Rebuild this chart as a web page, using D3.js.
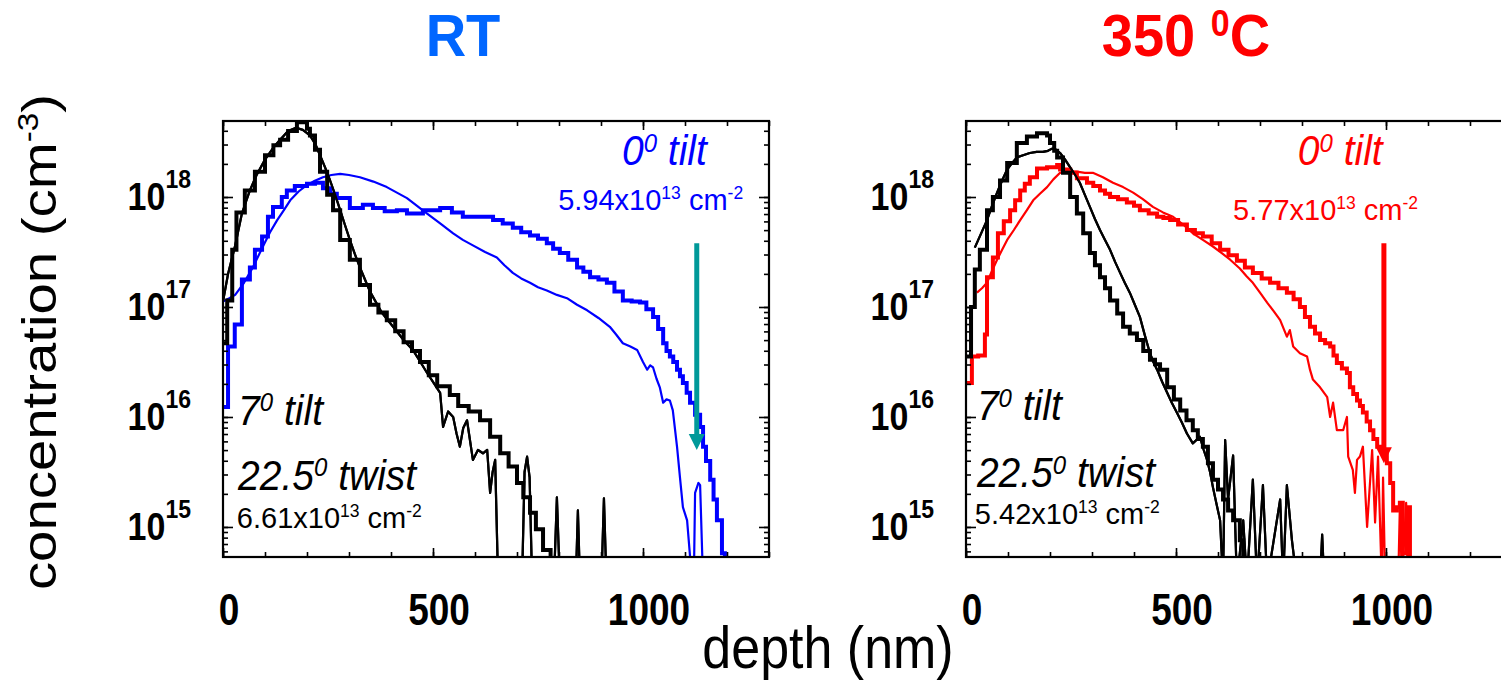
<!DOCTYPE html>
<html>
<head>
<meta charset="utf-8">
<script src="https://cdn.jsdelivr.net/npm/d3@7"></script>
<style>
  html, body { margin: 0; padding: 0; background: #fff; }
  svg { display: block; font-family: "Liberation Sans", Arial, sans-serif; }
  text { white-space: pre; }
</style>
</head>
<body>
<svg id="chart" width="1501" height="686"></svg>
<script>
// depth (nm) vs log10 of concentration (cm^-3)
// 14.5 means "below the bottom of the plot"

// RT panel
const rtBlackStep = [
  [0,16.67],[10,17.06],[22,17.52],[32,17.86],[52,18.06],[76,18.23],[100,18.38],[120,18.47],[136,18.52],
  [155,18.6],[176,18.68],[200,18.62],[207,18.56],[219,18.43],[231,18.23],[248,18.02],[262,17.88],
  [279,17.61],[302,17.43],[326,17.2],[350,17.02],[370,16.95],[390,16.88],[410,16.78],[430,16.68],
  [450,16.6],[469,16.5],[490,16.38],[510,16.28],[540,16.2],[560,16.1],[585,16.05],[612,15.97],
  [636,15.82],[660,15.67],[680,15.55],[700,15.4],[715,15.27],[731,15.13],[745,14.98],[762,14.79],[780,14.5]
];
const rtBlackSims = [
  [0,17.05],[12,17.3],[29,17.56],[45,17.85],[64,18.06],[80,18.2],[100,18.34],[120,18.45],[136,18.52],
  [155,18.6],[174,18.63],[190,18.61],[207,18.56],[220,18.48],[231,18.38],[243,18.27],[255,18.15],
  [267,18.02],[279,17.88],[290,17.75],[302,17.61],[314,17.48],[326,17.36],[338,17.25],[350,17.14],
  [378,16.95],[405,16.82],[430,16.7],[452,16.61],[470,16.5],[486,16.4],[500,16.32],[517,16.22],
  [524,15.91],[536,16.05],[548,16.0],[556,15.85],[564,15.73],[572,15.9],[581,15.97],[595,15.61],
  [607,15.7],[619,15.67],[629,15.7],[636,15.31],[642,15.5],[648,15.61],[655,14.5],[712,14.5],
  [718,15.5],[724,15.64],[730,15.45],[736,14.5],[788,14.5],[795,15.27],[802,14.5],[840,14.5],
  [845,15.15],[850,14.5],[901,14.5],[907,15.26],[913,14.5],[1300,14.5]
];
const rtBlueStep = [
  [0,16.09],[12,16.64],[28,16.84],[45,17.25],[64,17.36],[76,17.52],[93,17.64],[107,17.82],[119,17.91],
  [140,18.0],[152,18.06],[171,18.1],[200,18.12],[219,18.13],[238,18.08],[255,18.03],[271,17.99],
  [302,17.9],[333,17.93],[357,17.9],[385,17.87],[414,17.88],[438,17.85],[476,17.88],[517,17.9],
  [545,17.86],[571,17.82],[612,17.82],[643,17.79],[666,17.76],[690,17.72],[710,17.68],[731,17.65],
  [750,17.62],[771,17.58],[786,17.53],[802,17.49],[822,17.43],[843,17.36],[858,17.32],[874,17.27],
  [894,17.25],[914,17.22],[932,17.14],[952,17.06],[973,17.05],[993,17.04],[1008,16.98],[1024,16.91],
  [1036,16.8],[1048,16.67],[1056,16.6],[1064,16.55],[1072,16.5],[1081,16.43],[1088,16.37],[1095,16.31],
  [1104,16.22],[1112,16.13],[1124,16.02],[1136,15.91],[1143,15.73],[1150,15.6],[1160,15.43],
  [1168,15.25],[1176,15.06],[1188,14.76],[1195,14.5]
];
const rtBlueSims = [
  [0,17.05],[15,17.08],[29,17.11],[50,17.22],[71,17.36],[95,17.55],[112,17.68],[129,17.79],[145,17.88],
  [160,17.97],[180,18.05],[200,18.11],[220,18.15],[238,18.18],[258,18.2],[279,18.21],[300,18.2],
  [326,18.18],[358,18.14],[390,18.09],[414,18.04],[438,17.99],[462,17.92],[486,17.85],[517,17.76],
  [548,17.67],[571,17.61],[595,17.56],[624,17.5],[652,17.45],[670,17.38],[690,17.31],[710,17.26],
  [731,17.22],[750,17.18],[771,17.15],[795,17.11],[819,17.08],[843,17.02],[867,16.97],[894,16.9],
  [921,16.82],[936,16.75],[952,16.67],[970,16.64],[986,16.61],[1000,16.5],[1010,16.43],[1017,16.47],
  [1024,16.45],[1032,16.35],[1040,16.27],[1048,16.13],[1056,16.16],[1064,16.15],[1071,16.06],
  [1081,15.73],[1088,15.45],[1095,15.18],[1105,15.06],[1117,14.5],[1121,14.5],[1124,15.31],
  [1132,15.4],[1136,15.38],[1143,14.5],[1300,14.5]
];
const rtArrow = { depth: 1128, from: 17.58, to: 15.7 };

// 350 C panel
const hotBlackStep = [
  [0,16.55],[12,17.0],[21,17.34],[33,17.52],[50,17.88],[64,18.0],[81,18.15],[98,18.31],[121,18.49],
  [145,18.55],[169,18.58],[193,18.56],[200,18.49],[210,18.42],[217,18.36],[231,18.22],[248,18.0],
  [264,17.85],[279,17.67],[295,17.49],[307,17.38],[319,17.27],[331,17.17],[343,17.06],[360,16.94],
  [374,16.82],[390,16.76],[407,16.7],[422,16.6],[438,16.52],[450,16.48],[462,16.43],[479,16.27],
  [495,16.16],[510,16.06],[525,15.97],[540,15.88],[552,15.8],[564,15.73],[576,15.58],[588,15.43],
  [600,15.34],[612,15.25],[624,15.15],[636,15.06],[652,14.88],[660,14.5]
];
const hotBlackSims = [
  [21,17.54],[35,17.66],[50,17.79],[62,17.92],[74,18.04],[86,18.15],[98,18.25],[110,18.31],[121,18.36],
  [136,18.38],[152,18.4],[168,18.41],[183,18.41],[195,18.42],[205,18.44],[215,18.43],[224,18.4],
  [236,18.34],[248,18.27],[260,18.2],[271,18.13],[283,18.02],[295,17.91],[307,17.8],[319,17.7],
  [331,17.61],[343,17.52],[355,17.41],[367,17.31],[378,17.22],[390,17.13],[402,17.02],[414,16.91],
  [426,16.74],[438,16.58],[446,16.5],[455,16.43],[467,16.32],[479,16.22],[490,16.13],[502,16.04],
  [514,15.95],[526,15.85],[540,15.76],[557,15.82],[566,15.7],[574,15.61],[581,15.5],[588,15.36],
  [597,15.2],[605,15.06],[612,14.5],[617,15.79],[624,15.25],[636,15.65],[645,14.5],[660,15.06],
  [669,14.5],[683,15.43],[693,14.5],[707,15.38],[717,14.5],[748,15.25],[755,14.5],[764,15.38],
  [776,14.88],[788,14.5],[843,14.5],[848,14.93],[853,14.5],[1300,14.5]
];
const hotRedStep = [
  [0,16.31],[14,16.55],[29,16.56],[45,16.75],[50,17.27],[64,17.45],[76,17.67],[90,17.78],[105,17.88],
  [117,17.97],[129,18.06],[140,18.12],[152,18.18],[169,18.26],[193,18.27],[217,18.29],[224,18.25],
  [248,18.22],[264,18.17],[288,18.13],[303,18.1],[319,18.06],[331,18.03],[343,18.0],[362,17.98],
  [383,17.95],[400,17.92],[414,17.88],[435,17.85],[455,17.82],[470,17.81],[486,17.79],[505,17.75],
  [526,17.7],[545,17.67],[564,17.64],[585,17.58],[605,17.52],[625,17.47],[645,17.42],[664,17.36],
  [683,17.31],[704,17.26],[724,17.22],[744,17.17],[764,17.13],[780,17.07],[795,17.0],[807,16.91],
  [819,16.82],[831,16.76],[843,16.7],[855,16.67],[867,16.64],[875,16.56],[883,16.49],[895,16.44],
  [907,16.4],[914,16.27],[922,16.21],[931,16.15],[938,16.1],[945,16.04],[954,15.96],[962,15.88],
  [970,15.8],[979,15.73],[993,15.67],[1002,15.58],[1010,15.4],[1017,15.15],[1026,15.18],[1033,15.22],
  [1040,14.76],[1045,14.76],[1050,15.18],[1057,14.5]
];
const hotRedSims = [
  [26,17.13],[38,17.17],[50,17.22],[62,17.33],[74,17.43],[86,17.52],[98,17.61],[114,17.7],[129,17.79],
  [145,17.88],[160,17.97],[176,18.03],[193,18.09],[208,18.16],[224,18.22],[244,18.23],[264,18.23],
  [283,18.22],[302,18.22],[326,18.18],[350,18.13],[374,18.09],[398,18.04],[421,17.98],[445,17.91],
  [469,17.86],[493,17.82],[517,17.75],[540,17.67],[564,17.61],[588,17.55],[609,17.49],[629,17.43],
  [652,17.35],[668,17.28],[683,17.22],[700,17.13],[717,17.04],[733,16.96],[748,16.88],[764,16.73],
  [771,16.79],[779,16.64],[795,16.58],[812,16.55],[819,16.43],[826,16.34],[843,16.27],[860,16.18],
  [867,16.0],[874,16.13],[883,15.88],[898,15.88],[907,16.0],[910,15.64],[921,15.52],[926,15.31],
  [931,15.61],[938,15.64],[945,15.73],[955,15.0],[967,15.7],[974,15.04],[981,15.64],[990,14.5],
  [993,15.45],[998,14.5],[1029,14.5],[1033,15.18],[1038,14.5],[1048,15.22],[1052,14.5],[1300,14.5]
];
const hotArrow = { depth: 995, from: 17.58, to: 15.58 };

const xTicksMajor = [0, 500, 1000];
const yTickExps = [15, 16, 17, 18];
const depthDomain = [0, 1300];
const concDomain = [10 ** 14.727, 10 ** 18.691];

// annotation texts: depth and log10 conc of the baseline start
const rtNotes = [
  { d: 950, c: 18.29, kind: 'tilt', parts: [['0'], ['0', 1], [' tilt']] },
  { d: 798, c: 17.88, kind: 'dose', parts: [['5.94x10'], ['13', 1], [' cm'], ['-2', 1]] },
  { d: 36, c: 15.93, kind: 'tilt', parts: [['7'], ['0', 1], [' tilt']] },
  { d: 36, c: 15.34, kind: 'tilt', parts: [['22.5'], ['0', 1], [' twist']] },
  { d: 33, c: 14.99, kind: 'dose', parts: [['6.61x10'], ['13', 1], [' cm'], ['-2', 1]] }
];
const hotNotes = [
  { d: 790, c: 18.29, kind: 'tilt', parts: [['0'], ['0', 1], [' tilt']] },
  { d: 636, c: 17.79, kind: 'dose', parts: [['5.77x10'], ['13', 1], [' cm'], ['-2', 1]] },
  { d: 26, c: 15.97, kind: 'tilt', parts: [['7'], ['0', 1], [' tilt']] },
  { d: 26, c: 15.36, kind: 'tilt', parts: [['22.5'], ['0', 1], [' twist']] },
  { d: 21, c: 15.03, kind: 'dose', parts: [['5.42x10'], ['13', 1], [' cm'], ['-2', 1]] }
];

const SY = 1.15; // text in the original is a bit taller than wide

const svg = d3.select('#chart');

function richText(g, x, y, parts, o) {
  const sy = o.sy || SY;
  const t = g.append('text')
    .attr('transform', o.rotate
      ? `translate(${x},${y}) rotate(-90) scale(${sy},1)`
      : `translate(${x},${y}) scale(1,${sy})`)
    .attr('font-size', o.size)
    .attr('fill', o.fill || '#000')
    .attr('font-weight', o.weight || 'normal')
    .attr('font-style', o.style || 'normal')
    .attr('text-anchor', o.anchor || 'start');
  let up = false;
  parts.forEach(([s, sup]) => {
    const ts = t.append('tspan').text(s);
    if (sup) {
      ts.attr('font-size', o.sup);
      if (!up) { ts.attr('dy', -o.rise); up = true; }
    } else if (up) {
      ts.attr('dy', o.rise); up = false;
    }
  });
  return t;
}

const panels = [
  { id: 'rt', left: 223, steps: [[rtBlueStep, '#0000ff'], [rtBlackStep, '#000']],
    sims: [[rtBlueSims, '#0000ff'], [rtBlackSims, '#000']],
    arrow: rtArrow, arrowColor: '#009999', notes: rtNotes, noteColor: '#0000ff' },
  { id: 'hot', left: 966, steps: [[hotRedStep, '#ff0000'], [hotBlackStep, '#000']],
    sims: [[hotRedSims, '#ff0000'], [hotBlackSims, '#000']],
    arrow: hotArrow, arrowColor: '#ff0000', notes: hotNotes, noteColor: '#ff0000' }
];

const plotTop = 121, plotBottom = 557, pw = 546;

panels.forEach(p => {
  const x = d3.scaleLinear().domain(depthDomain).range([p.left, p.left + pw]);
  const y = d3.scaleLog().domain(concDomain).range([plotBottom, plotTop]);
  const g = svg.append('g').attr('class', p.id);

  g.append('clipPath').attr('id', 'clip-' + p.id)
    .append('rect').attr('x', p.left).attr('y', plotTop).attr('width', pw).attr('height', plotBottom - plotTop);

  const lineGen = d3.line()
    .x(d => x(d[0]))
    .y(d => y(10 ** d[1]));

  const plot = g.append('g').attr('clip-path', `url(#clip-${p.id})`);
  // thin measured profiles, then stepped histograms
  p.sims.forEach(([data, col]) => {
    plot.append('path').datum(data)
      .attr('d', lineGen.curve(d3.curveLinear))
      .attr('fill', 'none').attr('stroke', col).attr('stroke-width', 2.2)
      .attr('stroke-linejoin', 'round');
  });
  p.steps.forEach(([data, col]) => {
    plot.append('path').datum(data)
      .attr('d', lineGen.curve(d3.curveStepAfter))
      .attr('fill', 'none').attr('stroke', col).attr('stroke-width', 4);
  });
  // black thin on top so the crossings look like the original
  plot.append('path').datum(p.sims[1][0])
    .attr('d', lineGen.curve(d3.curveLinear))
    .attr('fill', 'none').attr('stroke', '#000').attr('stroke-width', 2.2)
    .attr('stroke-linejoin', 'round');

  // arrow
  const ax = x(p.arrow.depth), ay0 = y(10 ** p.arrow.from), ay1 = y(10 ** p.arrow.to);
  g.append('line').attr('x1', ax).attr('x2', ax).attr('y1', ay0).attr('y2', ay1 - 12)
    .attr('stroke', p.arrowColor).attr('stroke-width', 5);
  g.append('path')
    .attr('d', `M${ax - 8},${ay1 - 16}L${ax + 8},${ay1 - 16}L${ax},${ay1}Z`)
    .attr('fill', p.arrowColor);

  // axes: ticks point inward
  const xMinor = d3.range(0, 1301, 100);
  const yMinor = [];
  for (let e = 14; e <= 18; e++) for (let k = 1; k <= 9; k++) {
    const v = k * 10 ** e;
    if (v >= concDomain[0] && v <= concDomain[1]) yMinor.push(v);
  }
  const yMajor = yTickExps.map(e => 10 ** e);

  const axes = [
    [d3.axisBottom(x).tickValues(xMinor).tickSize(-5), `translate(0,${plotBottom})`],
    [d3.axisBottom(x).tickValues(xTicksMajor).tickSize(-9), `translate(0,${plotBottom})`],
    [d3.axisTop(x).tickValues(xMinor).tickSize(-5), `translate(0,${plotTop})`],
    [d3.axisTop(x).tickValues(xTicksMajor).tickSize(-9), `translate(0,${plotTop})`],
    [d3.axisLeft(y).tickValues(yMinor).tickSize(-5), `translate(${p.left},0)`],
    [d3.axisLeft(y).tickValues(yMajor).tickSize(-10), `translate(${p.left},0)`],
    [d3.axisRight(y).tickValues(yMinor).tickSize(-5), `translate(${p.left + pw},0)`],
    [d3.axisRight(y).tickValues(yMajor).tickSize(-10), `translate(${p.left + pw},0)`]
  ];
  axes.forEach(([axis, tr]) => {
    const a = g.append('g').attr('transform', tr).call(axis.tickFormat(''));
    a.select('.domain').remove();
    a.selectAll('line').attr('stroke', '#000').attr('stroke-width', 1.6);
  });

  g.append('rect').attr('x', p.left).attr('y', plotTop).attr('width', pw).attr('height', plotBottom - plotTop)
    .attr('fill', 'none').attr('stroke', '#000').attr('stroke-width', 2.2);

  // tick labels
  xTicksMajor.forEach(v => {
    richText(g, x(v) + 6, 625, [[String(v)]], { size: 37, weight: 'bold', anchor: 'middle', sy: 1.22 });
  });
  yTickExps.forEach(e => {
    richText(g, p.left - 32, y(10 ** e) + 13, [['10'], [String(e), 1]],
      { size: 34, sup: 23, rise: 19, weight: 'bold', anchor: 'end' });
  });

  // annotations
  p.notes.forEach((n, i) => {
    const col = i < 2 ? p.noteColor : '#000';
    if (n.kind === 'tilt') {
      richText(g, x(n.d), y(10 ** n.c), n.parts,
        { size: 39, sup: 24, rise: 12, style: 'italic', fill: col, sy: 1.1 });
    } else {
      richText(g, x(n.d), y(10 ** n.c), n.parts,
        { size: 29, sup: 17.5, rise: 11, fill: col, sy: 1.0 });
    }
  });
});

// titles
richText(svg, 463, 56, [['RT']], { size: 56, weight: 'bold', fill: '#0066ff', anchor: 'middle', sy: 1.06 });
richText(svg, 1186, 56, [['350 '], ['0', 1], ['C']],
  { size: 56, sup: 34, rise: 19, weight: 'bold', fill: '#ff0000', anchor: 'middle', sy: 1.06 });

// axis titles
richText(svg, 828, 668, [['depth (nm)']], { size: 52, anchor: 'middle' });
richText(svg, 56, 342, [['concentration (cm'], ['-3', 1], [')']],
  { size: 49, sup: 29, rise: 18, anchor: 'middle', rotate: true, sy: 1.15 });
</script>
</body>
</html>
